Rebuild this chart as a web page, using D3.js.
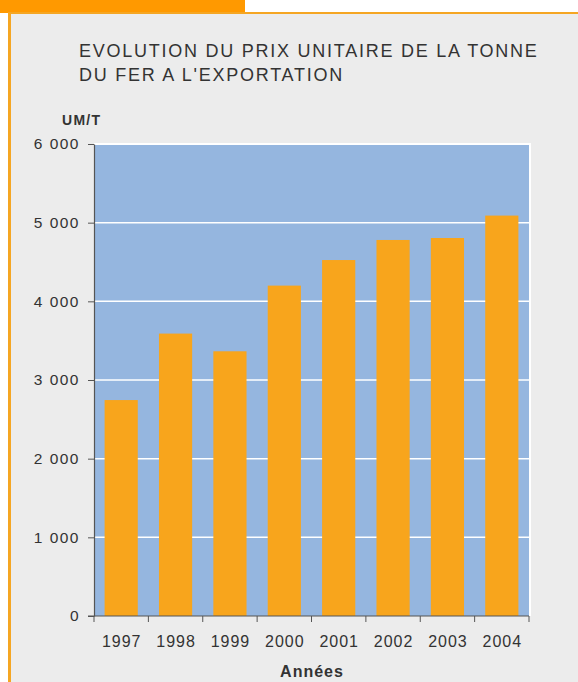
<!DOCTYPE html>
<html>
<head>
<meta charset="utf-8">
<script src="https://cdn.jsdelivr.net/npm/d3@7"></script>
<style>
  body { margin: 0; background: #fff; }
  svg { display: block; font-family: "Liberation Sans", Arial, sans-serif; }
</style>
</head>
<body>
<svg id="chart" width="578" height="682"></svg>
<script>
// chart data
const years = ["1997", "1998", "1999", "2000", "2001", "2002", "2003", "2004"];
const prices = [2745, 3590, 3365, 4200, 4525, 4780, 4805, 5090];
const yTicks = [0, 1000, 2000, 3000, 4000, 5000, 6000];

const margin = { top: 144, right: 49, bottom: 66, left: 94 };
const width = 578, height = 682;

const svg = d3.select("#chart");

// orange frame + grey panel
svg.append("rect").attr("x", 0).attr("y", 0).attr("width", 245).attr("height", 13).attr("fill", "#ff9900");
svg.append("rect").attr("x", 8).attr("y", 12).attr("width", width - 8).attr("height", height - 12).attr("fill", "#f5a623");
svg.append("rect").attr("x", 11).attr("y", 14).attr("width", width - 11).attr("height", height - 14).attr("fill", "#ececec");

// title
const title = svg.append("text")
  .attr("x", 79).attr("y", 57)
  .attr("fill", "#333")
  .style("font-size", "18px")
  .style("letter-spacing", "1.75px");
title.append("tspan").attr("x", 79).attr("dy", 0).text("EVOLUTION DU PRIX UNITAIRE DE LA TONNE");
title.append("tspan").attr("x", 79).attr("dy", 24).text("DU FER A L'EXPORTATION");

// scales
const x = d3.scaleBand()
  .domain(years)
  .range([margin.left, width - margin.right])
  .paddingInner(0.39)
  .paddingOuter(0.195);

const y = d3.scaleLinear()
  .domain([0, 6000])
  .range([height - margin.bottom, margin.top]);

// plot area (white frame on top/right, blue fill)
svg.append("rect")
  .attr("x", margin.left).attr("y", margin.top - 1)
  .attr("width", width - margin.right - margin.left + 2)
  .attr("height", height - margin.bottom - margin.top + 1)
  .attr("fill", "#fff");
svg.append("rect")
  .attr("x", margin.left).attr("y", margin.top + 1)
  .attr("width", width - margin.right - margin.left)
  .attr("height", height - margin.bottom - margin.top - 1)
  .attr("fill", "#95b6df");

// gridlines
svg.append("g")
  .selectAll("line")
  .data(yTicks.filter(d => d > 0 && d < 6000))
  .join("line")
  .attr("x1", margin.left).attr("x2", width - margin.right)
  .attr("y1", d => y(d)).attr("y2", d => y(d))
  .attr("stroke", "#fff").attr("stroke-width", 1.5);

// bars
svg.append("g")
  .selectAll("rect")
  .data(prices)
  .join("rect")
  .attr("x", (d, i) => x(years[i]))
  .attr("y", d => y(d))
  .attr("width", x.bandwidth())
  .attr("height", d => y(0) - y(d))
  .attr("fill", "#f8a51c");

const fmt = d => d3.format(",")(d).replace(/,/g, " ");

// y axis
const yAxis = svg.append("g")
  .attr("transform", `translate(${margin.left},0)`)
  .call(d3.axisLeft(y).tickValues(yTicks).tickFormat(fmt).tickSize(6).tickSizeOuter(0).tickPadding(8));
yAxis.attr("font-family", "Liberation Sans, Arial, sans-serif");
yAxis.select(".domain").attr("stroke", "#555").attr("stroke-width", 1.2);
yAxis.selectAll(".tick line").attr("stroke", "#555");
yAxis.selectAll("text")
  .attr("fill", "#333")
  .style("font-size", "15.5px")
  .style("letter-spacing", "1.5px");

// x axis with ticks at band edges
const xAxis = svg.append("g")
  .attr("transform", `translate(0,${height - margin.bottom})`);
xAxis.append("line")
  .attr("x1", margin.left - 6).attr("x2", width - margin.right)
  .attr("stroke", "#555").attr("stroke-width", 1.2);
const step = x.step();
xAxis.selectAll("line.tk")
  .data(d3.range(years.length + 1))
  .join("line").attr("class", "tk")
  .attr("x1", i => margin.left + i * step).attr("x2", i => margin.left + i * step)
  .attr("y1", 0).attr("y2", 6)
  .attr("stroke", "#555");
xAxis.selectAll("text")
  .data(years)
  .join("text")
  .attr("x", d => x(d) + x.bandwidth() / 2 + 0.5)
  .attr("y", 31)
  .attr("text-anchor", "middle")
  .attr("fill", "#333")
  .style("font-size", "16px")
  .style("letter-spacing", "1px")
  .text(d => d);

// axis titles
svg.append("text")
  .attr("x", 62).attr("y", 125)
  .attr("fill", "#333").style("font-size", "14px").style("font-weight", "bold")
  .style("letter-spacing", "1.3px")
  .text("UM/T");
svg.append("text")
  .attr("x", 312).attr("y", 677)
  .attr("text-anchor", "middle")
  .attr("fill", "#333").style("font-size", "16px").style("font-weight", "bold")
  .style("letter-spacing", "1px")
  .text("Années");
</script>
</body>
</html>
